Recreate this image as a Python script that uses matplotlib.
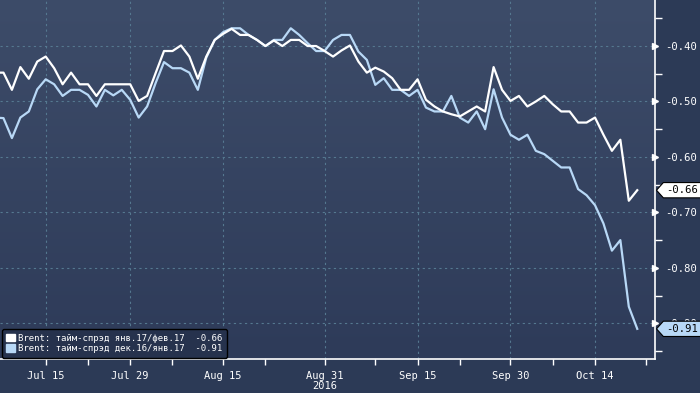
import numpy as np
import pandas as pd
import matplotlib
matplotlib.use("Agg")
import matplotlib.pyplot as plt
from matplotlib.colors import LinearSegmentedColormap
from matplotlib.patches import Patch
from matplotlib.path import Path
import matplotlib.transforms as mtransforms

# business days Jul 7 .. Oct 21, 2016
dates = pd.bdate_range("2016-07-07", "2016-10-21")

spread_jan_feb = [-0.448, -0.448, -0.479, -0.438, -0.459, -0.428, -0.419, -0.440, -0.469, -0.448,
                  -0.469, -0.469, -0.490, -0.469, -0.469, -0.469, -0.469, -0.499, -0.490, -0.449,
                  -0.409, -0.409, -0.399, -0.419, -0.459, -0.419, -0.389, -0.378, -0.369, -0.380,
                  -0.380, -0.389, -0.400, -0.390, -0.400, -0.389, -0.389, -0.400, -0.400, -0.409,
                  -0.419, -0.408, -0.399, -0.428, -0.448, -0.439, -0.446, -0.458, -0.479, -0.479,
                  -0.460, -0.497, -0.509, -0.518, -0.523, -0.527, -0.518, -0.509, -0.518, -0.438,
                  -0.479, -0.499, -0.490, -0.509, -0.500, -0.490, -0.505, -0.518, -0.518, -0.538,
                  -0.538, -0.529, -0.560, -0.589, -0.569, -0.679, -0.660]

spread_dec_jan = [-0.529, -0.530, -0.566, -0.529, -0.518, -0.478, -0.460, -0.469, -0.490, -0.479,
                  -0.479, -0.488, -0.509, -0.479, -0.489, -0.479, -0.497, -0.529, -0.509, -0.467,
                  -0.429, -0.440, -0.440, -0.448, -0.479, -0.421, -0.389, -0.375, -0.368, -0.368,
                  -0.380, -0.389, -0.400, -0.389, -0.389, -0.368, -0.380, -0.395, -0.409, -0.409,
                  -0.389, -0.380, -0.380, -0.410, -0.425, -0.470, -0.458, -0.479, -0.479, -0.490,
                  -0.479, -0.511, -0.518, -0.518, -0.490, -0.529, -0.538, -0.518, -0.550, -0.478,
                  -0.529, -0.560, -0.569, -0.560, -0.589, -0.595, -0.607, -0.619, -0.619, -0.658,
                  -0.669, -0.687, -0.720, -0.769, -0.750, -0.870, -0.910]

label_1 = "Brent: тайм-спрэд янв.17/фев.17  -0.66"
label_2 = "Brent: тайм-спрэд дек.16/янв.17  -0.91"

tick_dates = ["2016-07-15", "2016-07-29", "2016-08-15", "2016-08-31", "2016-09-15", "2016-09-30", "2016-10-14"]
tick_labels = ["Jul 15", "Jul 29", "Aug 15", "Aug 31\n2016", "Sep 15", "Sep 30", "Oct 14"]
minor_dates = ["2016-07-22", "2016-08-05", "2016-08-22", "2016-09-08", "2016-09-22", "2016-10-07", "2016-10-24"]
y_ticks = [-0.40, -0.50, -0.60, -0.70, -0.80, -0.90]

BG = "#2c3a56"
WHITE = "#ffffff"
BLUE = "#b8d8f6"
GRID = "#557890"
MONO = "DejaVu Sans Mono"

x = np.arange(len(dates))
pos = {d: i for i, d in enumerate(dates)}
all_days = pd.bdate_range("2016-07-07", "2016-10-31")
pos_all = {d: i for i, d in enumerate(all_days)}

fig = plt.figure(figsize=(7, 3.93), dpi=100, facecolor=BG)
ax = fig.add_axes([0, 0.0865, 655 / 700, 1 - 0.0865])

# background gradient
cmap = LinearSegmentedColormap.from_list("bg", ["#2e3b59", "#3d4c69"])
ax.imshow(np.linspace(0, 1, 256).reshape(-1, 1), cmap=cmap, origin="lower",
          extent=[0, 1, 0, 1], transform=ax.transAxes, aspect="auto", zorder=0)

x0 = pos[pd.Timestamp("2016-07-15")]
ax.set_xlim(x0 - 5.41, x0 + 72.1)
ax.set_ylim(-0.9644, -0.317)

ax.plot(x, spread_dec_jan, color=BLUE, lw=1.6, zorder=3)
ax.plot(x, spread_jan_feb, color=WHITE, lw=1.6, zorder=4)

# grid
ax.set_xticks([pos_all[pd.Timestamp(d)] for d in tick_dates])
ax.set_xticklabels(tick_labels, fontfamily=MONO, fontsize=7.5, color=WHITE, linespacing=1.0)
ax.set_xticks([pos_all[pd.Timestamp(d)] for d in minor_dates], minor=True)
ax.tick_params(axis="x", which="both", direction="out", length=4, width=1, color=WHITE, pad=4.5)
for t in ax.get_xticks():
    ax.axvline(t, color=GRID, lw=0.8, ls=(0, (2, 3)), zorder=1)
for v in y_ticks:
    ax.axhline(v, color=GRID, lw=0.8, ls=(0, (2, 3)), zorder=1)

# right axis
ax.yaxis.tick_right()
ax.set_yticks(y_ticks)
ax.set_yticklabels(["%.2f" % v for v in y_ticks], fontfamily=MONO, fontsize=7.6, color=WHITE)
ax.set_yticks(np.arange(-0.95, -0.33, 0.1), minor=True)
ax.tick_params(axis="y", which="major", length=0, pad=7.5)
ax.tick_params(axis="y", which="minor", direction="out", length=5, width=1, color=WHITE)
tr = mtransforms.blended_transform_factory(ax.transAxes, ax.transData)
ax.plot([1.0] * len(y_ticks), y_ticks, marker=">", ls="none", ms=5, color=WHITE,
        mec=WHITE, transform=tr, clip_on=False, zorder=5)

for s in ["top", "left"]:
    ax.spines[s].set_visible(False)
for s in ["bottom", "right"]:
    ax.spines[s].set_color(WHITE)
    ax.spines[s].set_linewidth(1.2)


def tag_box(x0, y0, width, height, mutation_size):
    pad = mutation_size * 0.25
    x0 -= pad
    y0 -= pad
    w = width + 2 * pad + 6
    h = height + 2 * pad
    tip = h * 0.45
    verts = [(x0 - tip, y0 + h / 2), (x0, y0), (x0 + w, y0), (x0 + w, y0 + h),
             (x0, y0 + h), (x0 - tip, y0 + h / 2), (x0 - tip, y0 + h / 2)]
    return Path(verts, closed=True)


for series, col in [(spread_jan_feb, WHITE), (spread_dec_jan, BLUE)]:
    last = series[-1]
    ax.annotate("%.2f" % last, xy=(1.0, last), xycoords=tr, xytext=(11, 0),
                textcoords="offset pixels", ha="left", va="center", fontfamily=MONO,
                fontsize=7.6, color="black", zorder=10, annotation_clip=False,
                bbox=dict(boxstyle=tag_box, fc=col, ec="black", lw=0.8))

leg = ax.legend(handles=[Patch(fc=WHITE, ec=WHITE, label=label_1),
                         Patch(fc=BLUE, ec=BLUE, label=label_2)],
                loc="lower left", bbox_to_anchor=(0.003, 0.004), frameon=True,
                fancybox=True, facecolor="#26324d", edgecolor="black", framealpha=1,
                prop={"family": MONO, "size": 6.5}, labelcolor=WHITE,
                handlelength=0.9, handleheight=0.9, handletextpad=0.4,
                borderpad=0.5, labelspacing=0.15, borderaxespad=0)
leg.set_zorder(6)

fig.savefig("out.png", dpi=100, facecolor=BG)
